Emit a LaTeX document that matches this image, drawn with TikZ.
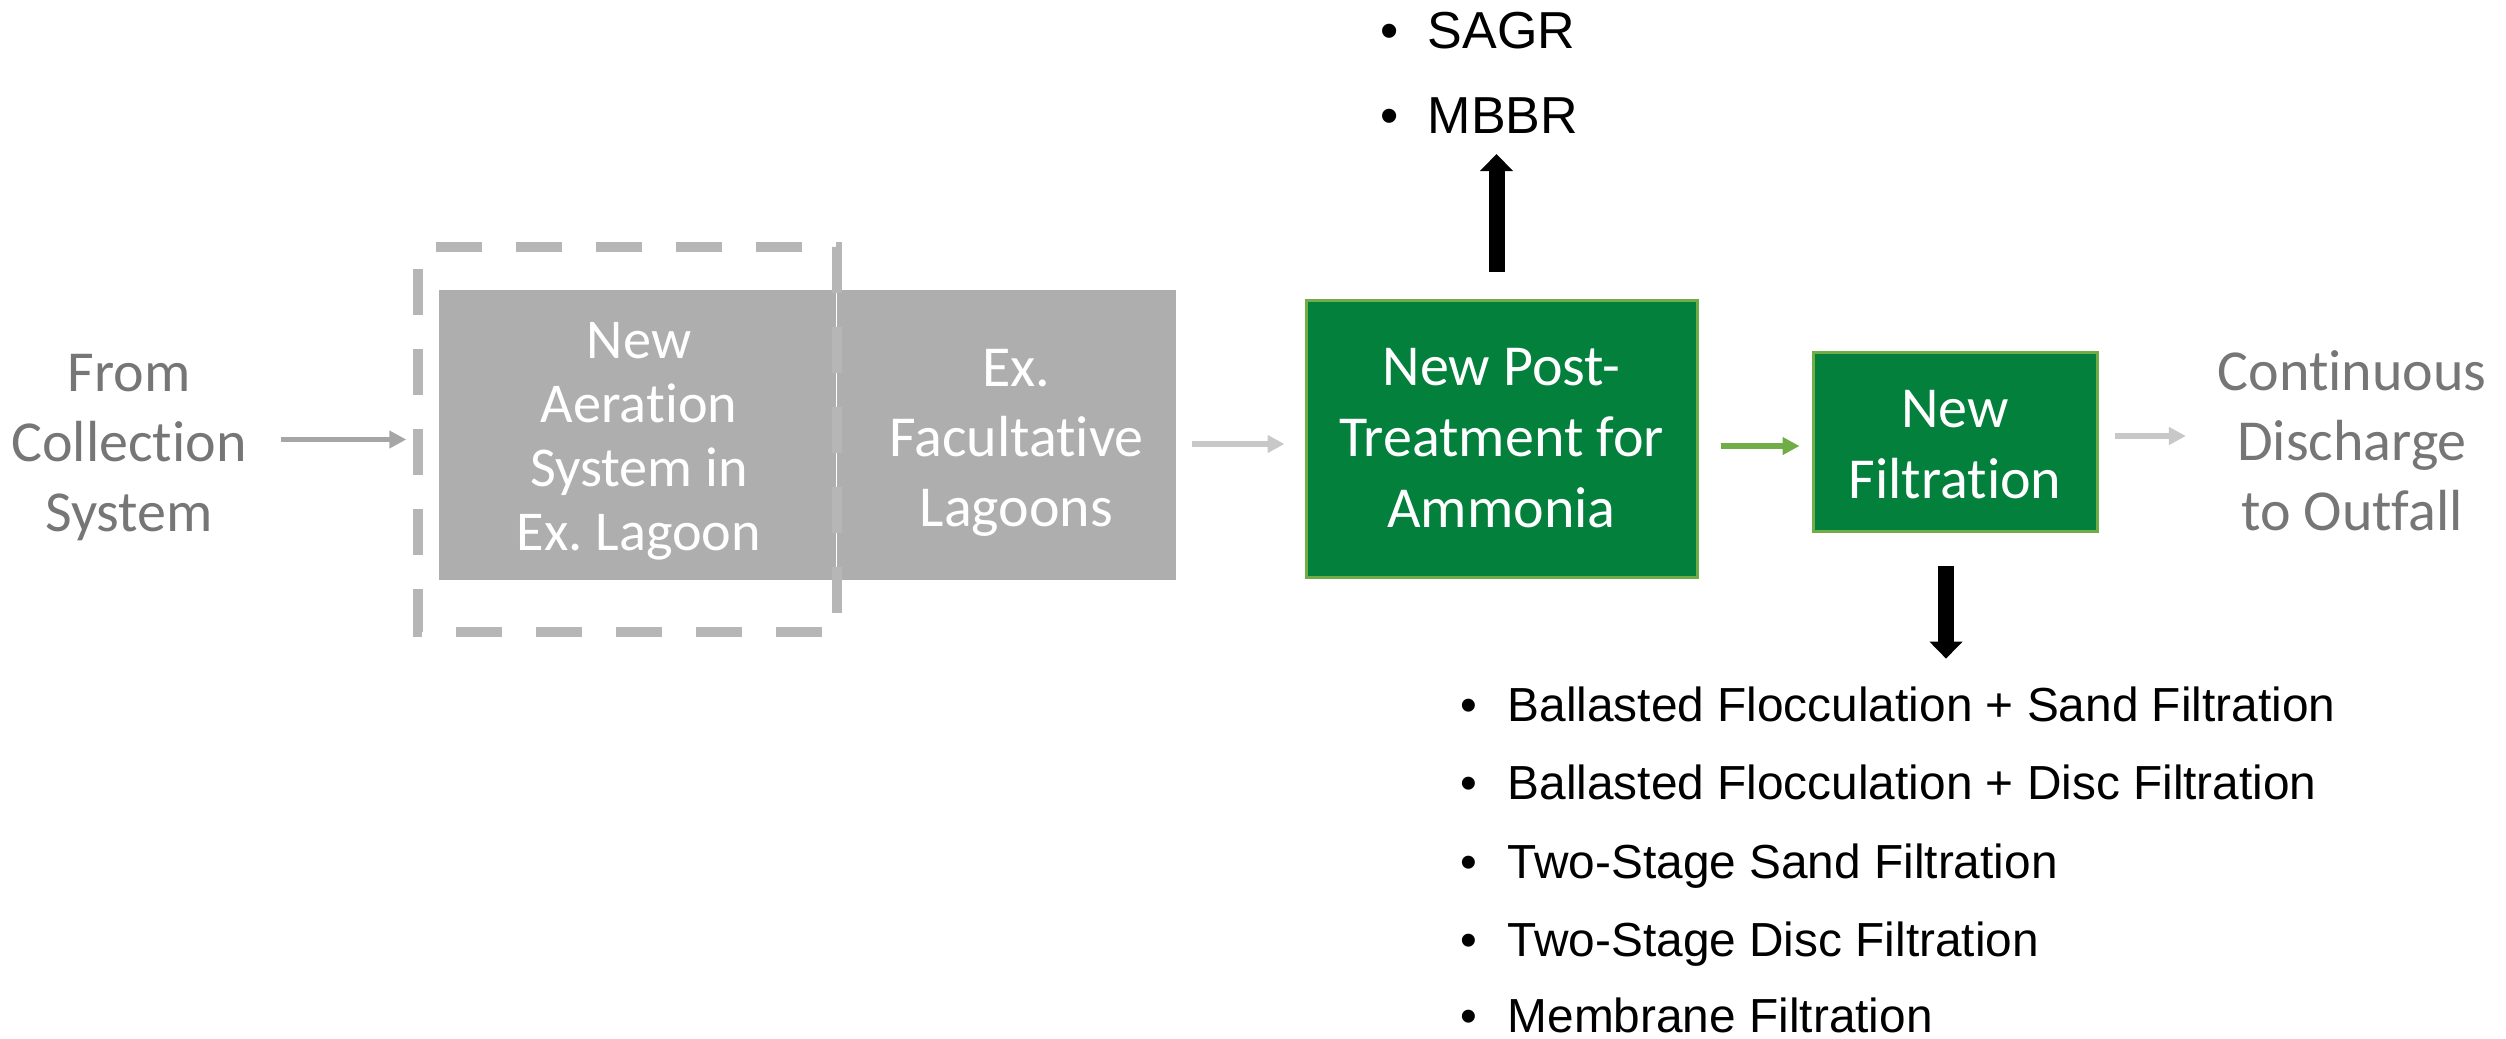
\documentclass[tikz,border=0pt]{standalone}
\usepackage{fontspec}
\setmainfont{Carlito}[Ligatures=NoCommon]
\newfontfamily\listfont{Liberation Sans}
\usetikzlibrary{positioning,arrows.meta}
\frenchspacing

\definecolor{boxgray}{HTML}{AEAEAE}
\definecolor{framegray}{HTML}{B6B6B6}
\definecolor{txtgray}{HTML}{767676}
\definecolor{linkdark}{HTML}{A6A6A6}
\definecolor{linklight}{HTML}{C8C8C8}
\definecolor{boxgreen}{HTML}{03803C}
\definecolor{edgegreen}{HTML}{70AD47}

\tikzset{
    flowtext/.style={font=\fontsize{16.5}{19.9}\selectfont, align=center, inner sep=0pt},
    sidetext/.style={flowtext, text=txtgray},
    graybox/.style={fill=boxgray, inner sep=0pt, minimum height=2.9cm},
    graytext/.style={flowtext, text=white},
    greenbox/.style={fill=boxgreen, draw=edgegreen, line width=0.03cm, inner sep=0pt},
    greentext/.style={flowtext, font=\fontsize{16.5}{20.2}\selectfont, text=white},
    dashframe/.style={draw=framegray, line width=0.1cm, dash pattern=on 0.46cm off 0.34cm, dash phase=0.62cm},
    thinlink/.style={-{Triangle[length=0.17cm, width=0.17cm]}, line width=0.055cm},
    biglink/.style={-{Triangle[length=0.17cm, width=0.32cm]}, line width=0.16cm, black},
    optitem/.style={font=\listfont\fontsize{13.6}{16}\selectfont, anchor=base west, inner sep=0pt},
    topitem/.style={optitem, font=\listfont\fontsize{14.8}{17}\selectfont}
}

\newcommand{\optbullet}{\makebox[0.47cm][l]{\textbullet}}

\begin{document}
\begin{tikzpicture}
    \useasboundingbox (0, 0) rectangle (25.06, 10.38);
    %boxes
    \node[sidetext] (from) at (1.29, 5.905) {From\\Collection\\System};
    \node[graybox, minimum width=3.97cm] (aer) at (6.375, 6.03) {};
    \node[graybox, minimum width=3.39cm, right=0cm of aer] (fac) {};
    \node[graytext, font=\fontsize{16}{18.2}\selectfont] (aertext) at ([xshift=0.015cm, yshift=-0.06cm]aer.center) {New\\Aeration\\System in\\Ex. Lagoon};
    \node[graytext] (factext) at ([xshift=0.095cm, yshift=-0.075cm]fac.center) {Ex.\\Facultative\\Lagoons};
    \node[minimum width=4.17cm, minimum height=3.83cm, inner sep=0pt] (frame) at (6.275, 5.985) {};
    \draw[dashframe] (frame.north west) -- (frame.north east) -- (frame.south east) -- (frame.south west) -- cycle;
    \node[greenbox, minimum width=3.91cm, minimum height=2.77cm] (post) at (15.015, 5.995) {};
    \node[greentext] (posttext) at (post.center) {New Post-\\Treatment for\\Ammonia};
    \node[greenbox, minimum width=2.84cm, minimum height=1.79cm] (filt) at (19.55, 5.965) {};
    \node[greentext] (filttext) at ([yshift=-0.035cm]filt.center) {New\\Filtration};
    \node[sidetext] (out) at (23.52, 5.97) {Continuous\\Discharge\\to Outfall};
    %options
    \node[topitem] (sagr) at (13.80, 9.90) {\optbullet SAGR};
    \node[topitem] (mbbr) at (13.80, 9.05) {\optbullet MBBR};
    \node[optitem] (opt1) at (14.60, 3.17) {\optbullet Ballasted Flocculation + Sand Filtration};
    \node[optitem] (opt2) at (14.60, 2.385) {\optbullet Ballasted Flocculation + Disc Filtration};
    \node[optitem] (opt3) at (14.60, 1.60) {\optbullet Two-Stage Sand Filtration};
    \node[optitem] (opt4) at (14.60, 0.815) {\optbullet Two-Stage Disc Filtration};
    \node[optitem] (opt5) at (14.60, 0.06) {\optbullet Membrane Filtration};
    %arrows
    \draw[thinlink, linkdark, shorten <=0.335cm, shorten >=0.12cm] (from.east |- frame.west) -- (frame.west);
    \draw[thinlink, linklight, shorten <=0.15cm, shorten >=0.2cm] ([yshift=-0.09cm]fac.east) -- ([yshift=-0.09cm]fac.east -| post.west);
    \draw[thinlink, edgegreen, shorten <=0.22cm, shorten >=0.12cm] ([yshift=-0.075cm]post.east) -- ([yshift=-0.075cm]post.east -| filt.west);
    \draw[thinlink, linklight, shorten <=0.16cm, shorten >=0.31cm] ([yshift=0.055cm]filt.east) -- ([yshift=0.055cm]filt.east -| out.west);
    \draw[biglink, shorten >=0.21cm] ([xshift=-0.05cm, yshift=0.27cm]post.north) -- ([xshift=-0.05cm]post.north |- mbbr.base);
    \draw[biglink, shorten >=0.27cm] ([xshift=-0.09cm, yshift=-0.33cm]filt.south) -- ([xshift=-0.09cm]filt.south |- opt1.north);
\end{tikzpicture}
\end{document}
